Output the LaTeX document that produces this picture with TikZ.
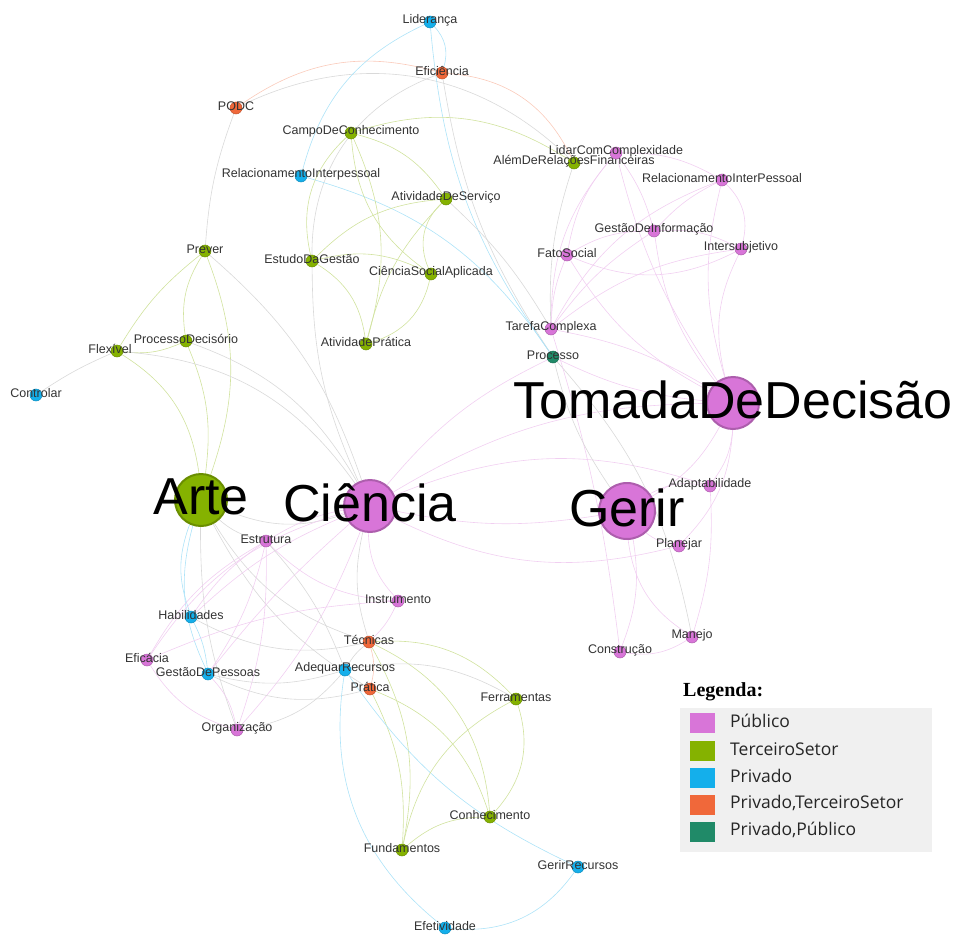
\documentclass[tikz,border=0pt]{standalone}
\usepackage{fontspec}
\usetikzlibrary{backgrounds}
\newfontfamily\arialfont{Liberation Sans}
\newfontfamily\segoefont{Open Sans}
\newfontfamily\timesfont{Liberation Serif}

\definecolor{cpub}{RGB}{216,117,216}
\definecolor{cter}{RGB}{133,178,0}
\definecolor{cpri}{RGB}{20,175,235}
\definecolor{cpts}{RGB}{240,104,58}
\definecolor{cppu}{RGB}{32,138,104}

\tikzset{
  dot/.style={circle, inner sep=0pt, minimum size=12pt, line width=0.5pt},
  pub/.style={dot, fill=cpub, draw=cpub!80!black},
  ter/.style={dot, fill=cter, draw=cter!80!black},
  pri/.style={dot, fill=cpri, draw=cpri!80!black},
  pts/.style={dot, fill=cpts, draw=cpts!80!black},
  ppu/.style={dot, fill=cppu, draw=cppu!80!black},
  big/.style={minimum size=52pt, line width=2pt},
  lbl/.style={font=\arialfont\fontsize{12.5}{12.5}\selectfont, text=black!80, inner sep=0pt, yshift=2pt},
  biglbl/.style={font=\arialfont\fontsize{52}{52}\selectfont, text=black, inner sep=0pt, yshift=3pt},
  ep/.style={draw=cpub!35, line width=0.6pt},
  eg/.style={draw=cter!38, line width=0.6pt},
  eb/.style={draw=cpri!35, line width=0.6pt},
  eo/.style={draw=cpts!35, line width=0.6pt},
  em/.style={draw=black!15, line width=0.6pt},
  swatch/.style={minimum width=25pt, minimum height=20pt, inner sep=0pt, anchor=west},
  legtext/.style={font=\segoefont\fontsize{17.5}{18}\selectfont, text=black!85, anchor=west, inner sep=0pt},
}

\begin{document}
\begin{tikzpicture}[x=1pt, y=-1pt]
\useasboundingbox (0,0) rectangle (957,936);

% nodes, top part
\node[pri] (lider) at (430,22) [label={[lbl]center:Liderança}] {};
\node[pts] (efic) at (442,73) [label={[lbl]center:Eficiência}] {};
\node[pts] (podc) at (236,108) [label={[lbl]center:PODC}] {};
\node[ter] (campo) at (351,133) [label={[lbl]center:CampoDeConhecimento}] {};
\node[ter] (alem) at (574,163) [label={[lbl]center:AlémDeRelaçõesFinanceiras}] {};
\node[pub] (lidar) at (616,153) [label={[lbl]center:LidarComComplexidade}] {};
\node[pri] (relint) at (301,176) [label={[lbl]center:RelacionamentoInterpessoal}] {};
\node[pub] (relpes) at (722,180) [label={[lbl]center:RelacionamentoInterPessoal}] {};
\node[ter] (ativserv) at (446,199) [label={[lbl]center:AtividadeDeServiço}] {};
\node[pub] (gestinf) at (654,231) [label={[lbl]center:GestãoDeInformação}] {};
\node[pub] (inter) at (741,249) [label={[lbl]center:Intersubjetivo}] {};
\node[pub] (fato) at (567,255) [label={[lbl]center:FatoSocial}] {};
\node[ter] (prever) at (205,251) [label={[lbl]center:Prever}] {};
\node[ter] (estudo) at (312,261) [label={[lbl]center:EstudoDaGestão}] {};
\node[ter] (csa) at (431,274) [label={[lbl]center:CiênciaSocialAplicada}] {};
\node[pub] (tarefa) at (551,329) [label={[lbl]center:TarefaComplexa}] {};
\node[ppu] (processo) at (553,357) [label={[lbl]center:Processo}] {};
\node[ter] (procdec) at (186,341) [label={[lbl]center:ProcessoDecisório}] {};
\node[ter] (flex) at (117,351) [label={[lbl,xshift=-7pt]center:Flexível}] {};
\node[ter] (ativpra) at (366,344) [label={[lbl]center:AtividadePrática}] {};
\node[pri] (controlar) at (36,395) [label={[lbl]center:Controlar}] {};

% big nodes
\node[pub, big] (tomada) at (733,403) [label={[biglbl]center:TomadaDeDecisão}] {};
\node[ter, big] (arte) at (201,500) [label={[biglbl]center:Arte}] {};
\node[pub, big] (ciencia) at (370,506) [label={[biglbl]center:Ciência}] {};
\node[pub, big, minimum size=56pt] (gerir) at (627,511) [label={[biglbl]center:Gerir}] {};

% nodes, lower part
\node[pub] (adapt) at (710,486) [label={[lbl]center:Adaptabilidade}] {};
\node[pub] (estrutura) at (266,541) [label={[lbl]center:Estrutura}] {};
\node[pub] (planejar) at (679,546) [label={[lbl]center:Planejar}] {};
\node[pub] (instr) at (398,601) [label={[lbl]center:Instrumento}] {};
\node[pri] (habil) at (191,617) [label={[lbl]center:Habilidades}] {};
\node[pts] (tecnicas) at (369,642) [label={[lbl]center:Técnicas}] {};
\node[pub] (eficacia) at (147,660) [label={[lbl]center:Eficácia}] {};
\node[pri] (gestpes) at (208,674) [label={[lbl]center:GestãoDePessoas}] {};
\node[pri] (adequar) at (345,670) [label={[lbl]center:AdequarRecursos}] {};
\node[pts] (pratica) at (370,689) [label={[lbl]center:Prática}] {};
\node[pub] (manejo) at (692,637) [label={[lbl]center:Manejo}] {};
\node[pub] (constr) at (620,652) [label={[lbl]center:Construção}] {};
\node[ter] (ferram) at (516,699) [label={[lbl]center:Ferramentas}] {};
\node[pub] (organiz) at (237,730) [label={[lbl]center:Organização}] {};
\node[ter] (conhec) at (490,817) [label={[lbl]center:Conhecimento}] {};
\node[ter] (fundam) at (402,850) [label={[lbl]center:Fundamentos}] {};
\node[pri] (gerirrec) at (578,867) [label={[lbl]center:GerirRecursos}] {};
\node[pri] (efetiv) at (445,928) [label={[lbl]center:Efetividade}] {};

% edges
\begin{scope}[on background layer]
  \draw[eo] (podc) to[bend left=25] (efic);
  \draw[eo] (efic) to[bend left=30] (alem);
  \draw[em] (podc) to[bend left=35] (alem);
  \draw[em] (podc) to[bend right=8] (prever);
  \draw[eb] (relint) to[bend left=25] (lider);
  \draw[eb] (lider) to[bend left=30] (efic);
  \draw[eb] (processo) to[bend left=15] (lider);
  \draw[em] (processo) to[bend left=12] (efic);
  \draw[em] (estudo) to[bend left=35] (efic);
  \draw[eb] (relint) to[bend left=20] (processo);
  \draw[eg] (estudo) to[bend left=30] (campo);
  \draw[eg] (campo) to[bend left=20] (ativpra);
  \draw[eg] (csa) to[bend left=25] (campo);
  \draw[eg] (campo) to[bend left=20] (ativserv);
  \draw[eg] (campo) to[bend left=25] (alem);
  \draw[eg] (estudo) to[bend left=20] (ativserv);
  \draw[eg] (ativpra) to[bend left=15] (ativserv);
  \draw[eg] (csa) to[bend left=35] (ativserv);
  \draw[em] (ativserv) to[bend left=8] (tarefa);
  \draw[eg] (estudo) to[bend left=20] (csa);
  \draw[eg] (estudo) to[bend left=25] (ativpra);
  \draw[eg] (csa) to[bend left=30] (ativpra);
  \draw[em] (estudo) to[bend right=12] (ciencia);
  \draw[eg] (flex) to[bend left=10] (prever);
  \draw[eg] (procdec) to[bend left=20] (prever);
  \draw[eg] (prever) to[bend left=20] (arte);
  \draw[eg] (procdec) to[bend left=15] (arte);
  \draw[eg] (flex) to[bend left=25] (arte);
  \draw[eg] (procdec) to[bend left=15] (flex);
  \draw[em] (controlar) to[bend left=5] (flex);
  \draw[em] (prever) to[bend left=15] (ciencia);
  \draw[em] (procdec) to[bend left=20] (ciencia);
  \draw[em] (flex) to[bend left=25] (ciencia);
  \draw[em] (ciencia) to[bend left=20] (arte);
  \draw[ep] (gerir) to[bend left=10] (ciencia);
  \draw[ep] (ciencia) to[bend left=20] (adapt);
  \draw[ep] (planejar) to[bend left=20] (ciencia);
  \draw[ep] (ciencia) to[bend left=15] (tomada);
  \draw[ep] (ciencia) to[bend left=12] (processo);
  \draw[ep] (gerir) to[bend right=15] (tomada);
  \draw[ep] (gerir) to[bend left=20] (adapt);
  \draw[ep] (gerir) to[bend right=15] (planejar);
  \draw[ep] (gerir) to[bend left=15] (constr);
  \draw[ep] (manejo) to[bend left=25] (gerir);
  \draw[ep] (tomada) to[bend left=20] (planejar);
  \draw[ep] (tomada) to[bend left=15] (adapt);
  \draw[ep] (adapt) to[bend left=10] (manejo);
  \draw[ep] (constr) to[bend right=20] (manejo);
  \draw[em] (processo) to[bend left=15] (manejo);
  \draw[ep] (tarefa) to[bend left=5] (constr);
  \draw[em] (processo) to[bend right=10] (gerir);
  \draw[ep] (lidar) to[bend right=10] (tomada);
  \draw[ep] (tarefa) to[bend left=20] (lidar);
  \draw[ep] (lidar) to[bend left=10] (gestinf);
  \draw[ep] (lidar) to[bend right=15] (fato);
  \draw[ep] (lidar) to[bend left=15] (relpes);
  \draw[ep] (tarefa) to[bend left=20] (relpes);
  \draw[ep] (relpes) to[bend right=10] (gestinf);
  \draw[ep] (relpes) to[bend left=30] (inter);
  \draw[ep] (relpes) to[bend right=15] (tomada);
  \draw[ep] (gestinf) to[bend right=15] (fato);
  \draw[ep] (gestinf) to[bend left=15] (inter);
  \draw[ep] (gestinf) to[bend right=10] (tarefa);
  \draw[ep] (tomada) to[bend left=15] (gestinf);
  \draw[ep] (inter) to[bend left=25] (fato);
  \draw[ep] (fato) to[bend right=10] (tarefa);
  \draw[ep] (fato) to[bend right=15] (tomada);
  \draw[ep] (inter) to[bend right=15] (tarefa);
  \draw[ep] (tomada) to[bend left=20] (inter);
  \draw[ep] (tarefa) to[bend left=10] (tomada);
  \draw[em] (alem) to[bend right=10] (tarefa);
  \draw[ep] (processo) to[bend right=10] (tomada);
  \draw[em] (arte) to[bend right=15] (estrutura);
  \draw[eb] (habil) to[bend left=20] (arte);
  \draw[eb] (gestpes) to[bend left=20] (arte);
  \draw[em] (tecnicas) to[bend left=20] (arte);
  \draw[em] (pratica) to[bend left=15] (arte);
  \draw[em] (organiz) to[bend left=10] (arte);
  \draw[ep] (ciencia) to[bend right=10] (estrutura);
  \draw[ep] (instr) to[bend left=20] (ciencia);
  \draw[em] (tecnicas) to[bend left=15] (ciencia);
  \draw[ep] (ciencia) to[bend right=10] (habil);
  \draw[ep] (ciencia) to[bend right=5] (gestpes);
  \draw[ep] (ciencia) to[bend left=10] (organiz);
  \draw[ep] (ciencia) to[bend right=20] (eficacia);
  \draw[ep] (estrutura) to[bend right=10] (habil);
  \draw[ep] (estrutura) to[bend left=10] (gestpes);
  \draw[ep] (estrutura) to[bend left=10] (organiz);
  \draw[ep] (estrutura) to[bend right=15] (eficacia);
  \draw[ep] (estrutura) to[bend right=20] (instr);
  \draw[em] (estrutura) to[bend left=10] (adequar);
  \draw[eb] (habil) to[bend left=10] (gestpes);
  \draw[em] (habil) to[bend right=20] (tecnicas);
  \draw[ep] (organiz) to[bend left=20] (eficacia);
  \draw[ep] (eficacia) to[bend left=10] (instr);
  \draw[em] (gestpes) to[bend right=15] (adequar);
  \draw[em] (gestpes) to[bend right=20] (pratica);
  \draw[ep] (gestpes) to[bend left=15] (organiz);
  \draw[em] (organiz) to[bend right=20] (adequar);
  \draw[ep] (tecnicas) to[bend right=10] (instr);
  \draw[eo] (tecnicas) to[bend left=15] (pratica);
  \draw[em] (tecnicas) to[bend right=10] (adequar);
  \draw[eg] (tecnicas) to[bend left=25] (ferram);
  \draw[eg] (tecnicas) to[bend left=30] (conhec);
  \draw[eg] (tecnicas) to[bend left=20] (fundam);
  \draw[eg] (pratica) to[bend left=15] (fundam);
  \draw[eg] (pratica) to[bend left=25] (conhec);
  \draw[em] (adequar) to[bend left=20] (ferram);
  \draw[eb] (efetiv) to[bend left=30] (adequar);
  \draw[eb] (gerirrec) to[bend left=15] (adequar);
  \draw[eb] (gerirrec) to[bend left=30] (efetiv);
  \draw[eg] (ferram) to[bend left=30] (conhec);
  \draw[eg] (fundam) to[bend left=25] (ferram);
  \draw[eg] (fundam) to[bend left=20] (conhec);
\end{scope}

% legend
\node[font=\timesfont\bfseries\fontsize{20}{20}\selectfont, anchor=west, inner sep=0pt] (legtitle) at (683,692) {Legenda:};
\node[fill=black!6, minimum width=252pt, minimum height=144pt, inner sep=0pt, anchor=north west] (legbox) at (680,708) {};
\node[swatch, fill=cpub] (swpub) at (690,723) {};
\node[swatch, fill=cter] (swter) at (690,751) {};
\node[swatch, fill=cpri] (swpri) at (690,778) {};
\node[swatch, fill=cpts] (swpts) at (690,805) {};
\node[swatch, fill=cppu] (swppu) at (690,832) {};
\node[legtext] (txpub) at (730,721) {Público};
\node[legtext] (txter) at (730,749) {TerceiroSetor};
\node[legtext] (txpri) at (730,776) {Privado};
\node[legtext] (txpts) at (730,803) {Privado,TerceiroSetor};
\node[legtext] (txppu) at (730,830) {Privado,Público};
\end{tikzpicture}
\end{document}
